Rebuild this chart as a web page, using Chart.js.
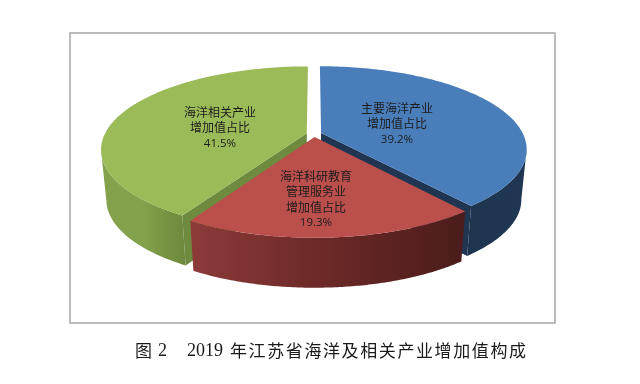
<!DOCTYPE html>
<html lang="zh">
<head>
<meta charset="utf-8">
<title>2019年江苏省海洋及相关产业增加值构成</title>
<script src="https://cdn.jsdelivr.net/npm/chart.js@4"></script>
<style>
    html, body { margin: 0; padding: 0; background: #fff; }
    #wrap { position: relative; width: 640px; height: 384px; overflow: hidden; }
    #pie { position: absolute; left: 0; top: 0; }
    .cap { position: absolute; line-height: 22px; color: #1a1a1a; white-space: nowrap; }
    .cap-cn { top: 337px; font: 17px "Noto Sans CJK SC", sans-serif; letter-spacing: 1.6px; }
    .cap-num { top: 340px; font: 18px "Liberation Serif", serif; }
</style>
</head>
<body>
<div id="wrap">
    <canvas id="pie" width="640" height="384"></canvas>
    <span class="cap cap-cn" style="left:135px">图</span>
    <span class="cap cap-num" style="left:158px">2</span>
    <span class="cap cap-num" style="left:187px">2019</span>
    <span class="cap cap-cn" style="left:230px">年江苏省海洋及相关产业增加值构成</span>
</div>
<script>
// values
const categories = ['主要海洋产业增加值占比', '海洋科研教育管理服务业增加值占比', '海洋相关产业增加值占比'];
const shares = [39.2, 19.3, 41.5];
const labelLines = [['主要海洋产业', '增加值占比'], ['海洋科研教育', '管理服务业', '增加值占比'], ['海洋相关产业', '增加值占比']];

// slice colors
const topColors = ['#4a7ebb', '#bb4f4c', '#9bbb59'];
const innerColors = ['#1f3552', '#5a2220', '#6d8a3e'];
const wallStops = [
    [[0, '#1e3550'], [1, '#1f3753']],
    [[0, '#8c3b39'], [0.45, '#6e2a28'], [1, '#4a1c1b']],
    [[0, '#84a24b'], [0.5, '#84a24b'], [1, '#6f8a3c']]
];

// look of the tilted pie
const pieRadius = 202;
const pieTilt = 80;
const piePerspective = 0.193;
const wallDepth = 50;
const wallInset = 0.975;
const rimSteps = 120;
const innerWallAt = [rimSteps, null, 0]; // only the cut faces turned to the viewer
const labelSpots = [[397, 108], [316, 176], [220, 112]];

//..ground plane to screen, x/z in units of the radius
function project(arc, gx, gz) {
    const s = 1 / (1 - piePerspective * gz);
    return [arc.x + gx * pieRadius * s, arc.y + gz * pieTilt * s];
}

function lower(arc, p) {
    return [arc.x + (p[0] - arc.x) * wallInset, p[1] + wallDepth];
}

function tracePoints(ctx, points) {
    ctx.beginPath();
    points.forEach((p, i) => (i ? ctx.lineTo(p[0], p[1]) : ctx.moveTo(p[0], p[1])));
    ctx.closePath();
}

//..draw one slice: cut face, outer wall, then the top face
function drawSlice(ctx, arc, i) {
    const mid = (arc.startAngle + arc.endAngle) / 2;
    const off = arc.options.offset / pieRadius;
    const ox = Math.cos(mid) * off;
    const oz = Math.sin(mid) * off;

    const apex = project(arc, ox, oz);
    const rim = [];
    const front = [];
    for (let n = 0; n <= rimSteps; n++) {
        const a = arc.startAngle + (arc.endAngle - arc.startAngle) * n / rimSteps;
        const p = project(arc, ox + Math.cos(a), oz + Math.sin(a));
        rim.push(p);
        // the wall only shows from the widest point of the ellipse forward
        if (Math.sin(a) >= piePerspective) front.push(p);
    }

    if (innerWallAt[i] !== null) {
        const edge = rim[innerWallAt[i]];
        ctx.fillStyle = innerColors[i];
        tracePoints(ctx, [apex, edge, lower(arc, edge), lower(arc, apex)]);
        ctx.fill();
    }

    const xs = front.map(p => p[0]);
    const grad = ctx.createLinearGradient(Math.min(...xs), 0, Math.max(...xs), 0);
    wallStops[i].forEach(s => grad.addColorStop(s[0], s[1]));
    ctx.fillStyle = grad;
    tracePoints(ctx, front.concat(front.map(p => lower(arc, p)).reverse()));
    ctx.fill();

    ctx.fillStyle = arc.options.backgroundColor;
    tracePoints(ctx, [apex].concat(rim));
    ctx.fill();
}

const pie3d = {
    id: 'pie3d',
    beforeDraw(chart) {
        const ctx = chart.ctx;
        ctx.save();
        ctx.strokeStyle = '#a6a6a6';
        ctx.lineWidth = 1.5;
        ctx.strokeRect(70, 33, 485, 290);
        ctx.restore();
    },
    beforeDatasetDraw(chart) {
        const ctx = chart.ctx;
        const arcs = chart.getDatasetMeta(0).data;
        ctx.save();
        // back slices first, the near one goes on top
        [0, 2, 1].forEach(i => drawSlice(ctx, arcs[i], i));
        ctx.restore();
        return false;
    },
    afterDraw(chart) {
        const ctx = chart.ctx;
        ctx.save();
        ctx.textAlign = 'center';
        ctx.textBaseline = 'middle';
        ctx.fillStyle = '#1c1c1c';
        labelLines.forEach((lines, i) => {
            const [x, y] = labelSpots[i];
            ctx.font = '12px "Noto Sans CJK SC", sans-serif';
            lines.forEach((line, n) => ctx.fillText(line, x, y + n * 15.7));
            ctx.font = '11.5px "Open Sans", sans-serif';
            ctx.fillText(shares[i].toFixed(1) + '%', x, y + lines.length * 15.7);
        });
        ctx.restore();
    }
};

new Chart(document.getElementById('pie'), {
    type: 'pie',
    data: {
        labels: categories,
        datasets: [{
            data: shares,
            backgroundColor: topColors,
            borderWidth: 0,
            offset: 7.5
        }]
    },
    options: {
        responsive: false,
        animation: false,
        layout: { padding: { left: 0, right: 12, top: 0, bottom: 116 } },
        plugins: {
            legend: { display: false },
            tooltip: { enabled: false }
        }
    },
    plugins: [pie3d]
});
</script>
</body>
</html>
